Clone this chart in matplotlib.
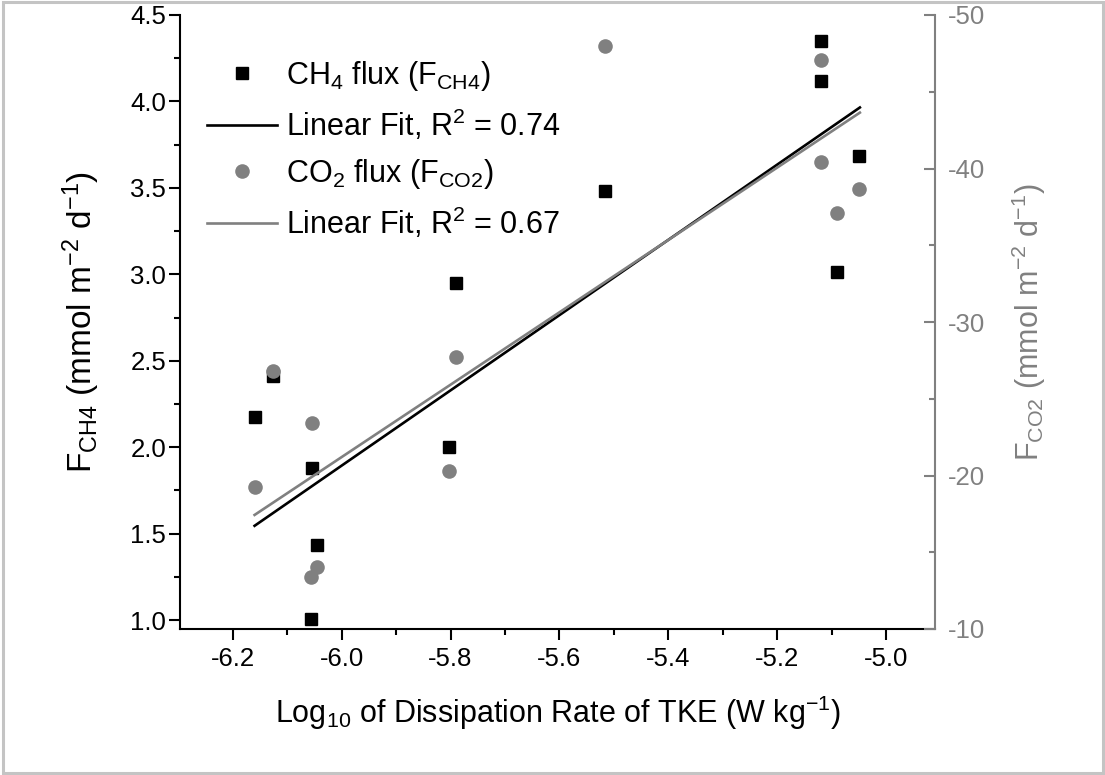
import matplotlib
matplotlib.use("Agg")
import matplotlib.pyplot as plt
from matplotlib.ticker import MultipleLocator, FormatStrFormatter
from matplotlib.patches import Rectangle

# ---- data ----
log_eps = [-6.160, -6.126, -6.055, -6.046, -6.057, -5.802, -5.790, -5.516,
           -5.120, -5.120, -5.049, -5.090]
f_ch4 = [2.176, 2.411, 1.877, 1.434, 1.004, 1.999, 2.947, 3.481,
         4.349, 4.117, 3.684, 3.011]
f_co2 = [-19.23, -26.83, -23.40, -14.06, -13.41, -20.27, -27.74, -48.0,
         -47.07, -40.40, -38.66, -37.12]
fit_x = [-6.160, -5.048]
ch4_fit = [1.545, 3.965]
co2_fit = [-17.43, -43.64]
legend_labels = ['CH$_4$ flux (F$_{CH4}$)', 'Linear Fit, R$^2$ = 0.74',
                 'CO$_2$ flux (F$_{CO2}$)', 'Linear Fit, R$^2$ = 0.67']

plt.rcParams['font.family'] = ['Liberation Sans', 'DejaVu Sans']
plt.rcParams['mathtext.fontset'] = 'custom'
plt.rcParams['mathtext.rm'] = 'Liberation Sans'
plt.rcParams['mathtext.it'] = 'Liberation Sans:italic'
plt.rcParams['mathtext.default'] = 'regular'
plt.rcParams['axes.unicode_minus'] = False

W, H = 1105, 775
fig = plt.figure(figsize=(W / 100, H / 100), dpi=100)
ax = fig.add_axes([180 / W, 1 - 629 / H, (935 - 180) / W, (629 - 15) / H])
ax2 = ax.twinx()

GRAY = '#808080'
TICK_FS = 18.5
LAB_FS = 22

h1, = ax.plot(log_eps, f_ch4, 's', color='black', markersize=9, linestyle='none')
l1, = ax.plot(fit_x, ch4_fit, '-', color='black', linewidth=1.9)
h2, = ax2.plot(log_eps, f_co2, 'o', color=GRAY, markersize=10.5, markeredgewidth=0,
               linestyle='none')
l2, = ax2.plot(fit_x, co2_fit, '-', color=GRAY, linewidth=1.9)

ax.set_xlim(-6.297, -4.91)
ax.set_ylim(0.948, 4.5)
ax2.set_ylim(-10, -50)

ax.xaxis.set_major_locator(MultipleLocator(0.2))
ax.xaxis.set_minor_locator(MultipleLocator(0.1))
ax.xaxis.set_major_formatter(FormatStrFormatter('%.1f'))
ax.yaxis.set_major_locator(MultipleLocator(0.5))
ax.yaxis.set_minor_locator(MultipleLocator(0.25))
ax.yaxis.set_major_formatter(FormatStrFormatter('%.1f'))
ax2.yaxis.set_major_locator(MultipleLocator(10))
ax2.yaxis.set_minor_locator(MultipleLocator(5))
ax2.yaxis.set_major_formatter(FormatStrFormatter('%d'))

for s in ['top', 'right']:
    ax.spines[s].set_visible(False)
for s in ['top', 'left', 'bottom']:
    ax2.spines[s].set_visible(False)
ax.spines['left'].set_linewidth(1.5)
ax.spines['bottom'].set_linewidth(1.5)
ax2.spines['right'].set_linewidth(1.5)
ax2.spines['right'].set_color(GRAY)

ax.tick_params(axis='both', which='major', direction='out', length=8, width=1.5,
               labelsize=TICK_FS, color='black')
ax.tick_params(axis='both', which='minor', direction='out', length=4, width=1.5)
ax.tick_params(axis='x', which='major', pad=5)
ax.tick_params(axis='y', which='major', pad=2)
ax2.tick_params(axis='y', which='major', direction='in', length=8, width=1.5,
                labelsize=TICK_FS, color=GRAY, labelcolor=GRAY, pad=9)
ax2.tick_params(axis='y', which='minor', direction='in', length=4, width=1.5,
                color=GRAY)

ax.set_xlabel('Log$_{10}$ of Dissipation Rate of TKE (W kg$^{-1}$)', fontsize=LAB_FS,
              labelpad=16)
ax.set_ylabel('F$_{CH4}$ (mmol m$^{-2}$ d$^{-1}$)', fontsize=24, labelpad=20)
ax2.set_ylabel('F$_{CO2}$ (mmol m$^{-2}$ d$^{-1}$)', fontsize=LAB_FS, color=GRAY,
               labelpad=18)

leg = ax2.legend([h1, l1, h2, l2], legend_labels, loc='upper left',
                 bbox_to_anchor=((207 - 180) / 755, 1 - (59 - 15) / 614),
                 frameon=False, fontsize=LAB_FS, borderpad=0, borderaxespad=0,
                 handlelength=2.3, handletextpad=0.3, labelspacing=0.47,
                 numpoints=1)

fig.add_artist(Rectangle((2.5 / W, 2 / H), (1102.5 - 2.5) / W, (773 - 2) / H,
                         transform=fig.transFigure, fill=False,
                         edgecolor='#c4c4c4', linewidth=2.2))

fig.savefig('out.png', dpi=100)
